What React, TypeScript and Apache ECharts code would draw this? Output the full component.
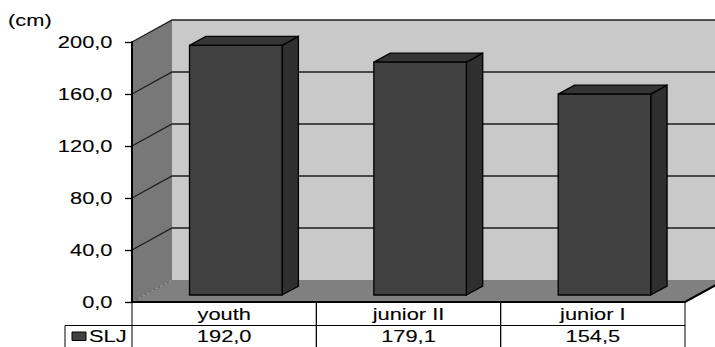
import React, { useEffect, useRef } from "react";
import * as echarts from "echarts";

const CATEGORIES = ["youth", "junior II", "junior I"];
const SERIES_NAME = "SLJ";
const VALUES = [192.0, 179.1, 154.5];
const Y_TICKS = [0, 40, 80, 120, 160, 200];
const UNIT_LABEL = "(cm)";

const FONT_FAMILY = "'Liberation Sans', Arial, sans-serif";
const FS = 16.3;
const SX = 1.34;
const DX = 40;
const DY = 22;
const BAR_D0 = 0.318;
const BAR_D1 = 0.727;
const ROW1_H = 23.5;
const ROW2_H = 24;
const LEGEND_LEFT = 65;

const fmt = (v: number) => v.toFixed(1).replace(".", ",");

const textStyle = (text: string, align: string) => ({
  text,
  fill: "#000",
  fontFamily: FONT_FAMILY,
  fontSize: FS,
  align,
  verticalAlign: "middle",
  stroke: "#000",
  lineWidth: 0.1,
});

const textEl = (text: string, x: number, y: number, align: string) => ({
  type: "text",
  x,
  y,
  scaleX: SX,
  style: textStyle(text, align),
});

export default function App() {
  const ref = useRef<HTMLDivElement>(null);

  useEffect(() => {
    const chart = echarts.init(ref.current as HTMLDivElement, null, { renderer: "svg" });
    const Y = (api: any, v: number) => api.coord([0, v])[1];
    const yMax = Y_TICKS[Y_TICKS.length - 1];

    const option: any = {
      animation: false,
      grid: { left: 132, right: 30, top: 42, bottom: 45 },
      xAxis: {
        type: "category",
        data: CATEGORIES,
        axisLine: { show: false },
        axisTick: { show: false },
        axisLabel: { show: false },
        splitLine: { show: false },
      },
      yAxis: {
        type: "value",
        min: 0,
        max: yMax,
        interval: 40,
        z: 10,
        axisLine: { show: true, lineStyle: { color: "#000", width: 2 } },
        axisTick: { show: true, length: 7, lineStyle: { color: "#000", width: 1.3 } },
        axisLabel: { show: false },
        splitLine: { show: false },
      },
      graphic: [
        {
          type: "text",
          x: 8,
          y: 21,
          scaleX: SX,
          style: textStyle(UNIT_LABEL, "left"),
        },
      ],
      series: [
        {
          type: "custom",
          z: 1,
          silent: true,
          data: [[0, 0]],
          renderItem: (params: any, api: any) => {
            const cs = params.coordSys;
            const x0 = cs.x;
            const x1 = cs.x + cs.width;
            const y0 = Y(api, 0);
            const yT = Y(api, yMax);
            const children: any[] = [];
            children.push({
              type: "polygon",
              shape: { points: [[x0 + DX, yT - DY], [x1 + DX, yT - DY], [x1 + DX, y0 - DY], [x0 + DX, y0 - DY]] },
              style: { fill: "#c9c9c9" },
            });
            children.push({
              type: "polygon",
              shape: { points: [[x0, yT], [x0 + DX, yT - DY], [x0 + DX, y0 - DY], [x0, y0]] },
              style: { fill: "#787878" },
            });
            children.push({
              type: "polygon",
              shape: { points: [[x0, y0], [x1, y0], [x1 + DX, y0 - DY], [x0 + DX, y0 - DY]] },
              style: { fill: "#808080" },
            });
            children.push({
              type: "line",
              shape: { x1: x0, y1: y0, x2: x0 + DX, y2: y0 - DY },
              style: { stroke: "#555", lineWidth: 1, lineDash: [2, 3] },
            });
            Y_TICKS.slice(1).forEach((v) => {
              const y = Y(api, v);
              children.push({
                type: "polyline",
                shape: { points: [[x0, y], [x0 + DX, y - DY], [x1 + DX, y - DY]] },
                style: { stroke: "#1e1e1e", lineWidth: 1.3, fill: null },
              });
            });
            children.push({
              type: "polyline",
              shape: { points: [[x0, y0], [x1, y0], [x1 + DX, y0 - DY]] },
              style: { stroke: "#000", lineWidth: 2, fill: null },
            });
            return { type: "group", children };
          },
        },
        {
          type: "custom",
          name: SERIES_NAME,
          z: 3,
          data: VALUES.map((v, i) => [i, v]),
          renderItem: (params: any, api: any) => {
            const i = api.value(0);
            const v = api.value(1);
            const p = api.coord([i, v]);
            const y0 = api.coord([i, 0])[1];
            const bw = api.size([1, 0])[0];
            const l = p[0] - bw * 0.257 + BAR_D0 * DX;
            const r = p[0] + bw * 0.245 + BAR_D0 * DX;
            const t = p[1] - BAR_D0 * DY;
            const b = y0 - BAR_D0 * DY;
            const ddx = (BAR_D1 - BAR_D0) * DX;
            const ddy = (BAR_D1 - BAR_D0) * DY;
            const st = { stroke: "#000", lineWidth: 1.3, lineJoin: "miter" };
            return {
              type: "group",
              children: [
                { type: "polygon", shape: { points: [[r, t], [r + ddx, t - ddy], [r + ddx, b - ddy], [r, b]] }, style: { ...st, fill: "#2f2f2f" } },
                { type: "polygon", shape: { points: [[l, t], [l + ddx, t - ddy], [r + ddx, t - ddy], [r, t]] }, style: { ...st, fill: "#353535" } },
                { type: "rect", shape: { x: l, y: t, width: r - l, height: b - t }, style: { ...st, fill: "#414141" } },
              ],
            };
          },
        },
        {
          type: "custom",
          z: 4,
          silent: true,
          data: VALUES.map((v, i) => [i, v]),
          renderItem: (params: any, api: any) => {
            const i = api.value(0);
            const v = api.value(1);
            const cx = api.coord([i, 0])[0];
            const y0 = api.coord([i, 0])[1];
            const bw = api.size([1, 0])[0];
            const l = cx - bw / 2;
            const r = cx + bw / 2;
            const yMid = y0 + ROW1_H;
            const yBot = yMid + ROW2_H;
            const ls = { stroke: "#000", lineWidth: 1 };
            const children: any[] = [
              { type: "line", shape: { x1: l, y1: y0, x2: l, y2: yBot }, style: ls },
              { type: "line", shape: { x1: r, y1: y0, x2: r, y2: yBot }, style: ls },
              { type: "line", shape: { x1: l, y1: yMid, x2: r, y2: yMid }, style: ls },
              textEl(CATEGORIES[i], cx, y0 + ROW1_H / 2 + 0.5, "center"),
              textEl(fmt(v), cx, yMid + 11.5, "center"),
            ];
            if (i === 0) {
              children.push(
                { type: "line", shape: { x1: LEGEND_LEFT, y1: yMid, x2: l, y2: yMid }, style: ls },
                { type: "line", shape: { x1: LEGEND_LEFT, y1: yMid, x2: LEGEND_LEFT, y2: yBot }, style: ls },
                {
                  type: "rect",
                  shape: { x: 72, y: yMid + 6.5, width: 14, height: 8.5 },
                  style: { fill: "#414141", stroke: "#000", lineWidth: 1 },
                },
                textEl(SERIES_NAME, 89, yMid + 11.5, "left")
              );
            }
            return { type: "group", children };
          },
        },
        {
          type: "custom",
          z: 4,
          silent: true,
          data: Y_TICKS.map((v) => [0, v]),
          renderItem: (params: any, api: any) => {
            const v = api.value(1);
            const y = Y(api, v);
            return textEl(fmt(v), params.coordSys.x - 19.5, y + 0.8, "right");
          },
        },
      ],
    };

    chart.setOption(option);
    return () => chart.dispose();
  }, []);

  return (
    <div
      ref={ref}
      style={{ position: "fixed", left: 0, top: 0, width: 715, height: 347, background: "#fff" }}
    />
  );
}
